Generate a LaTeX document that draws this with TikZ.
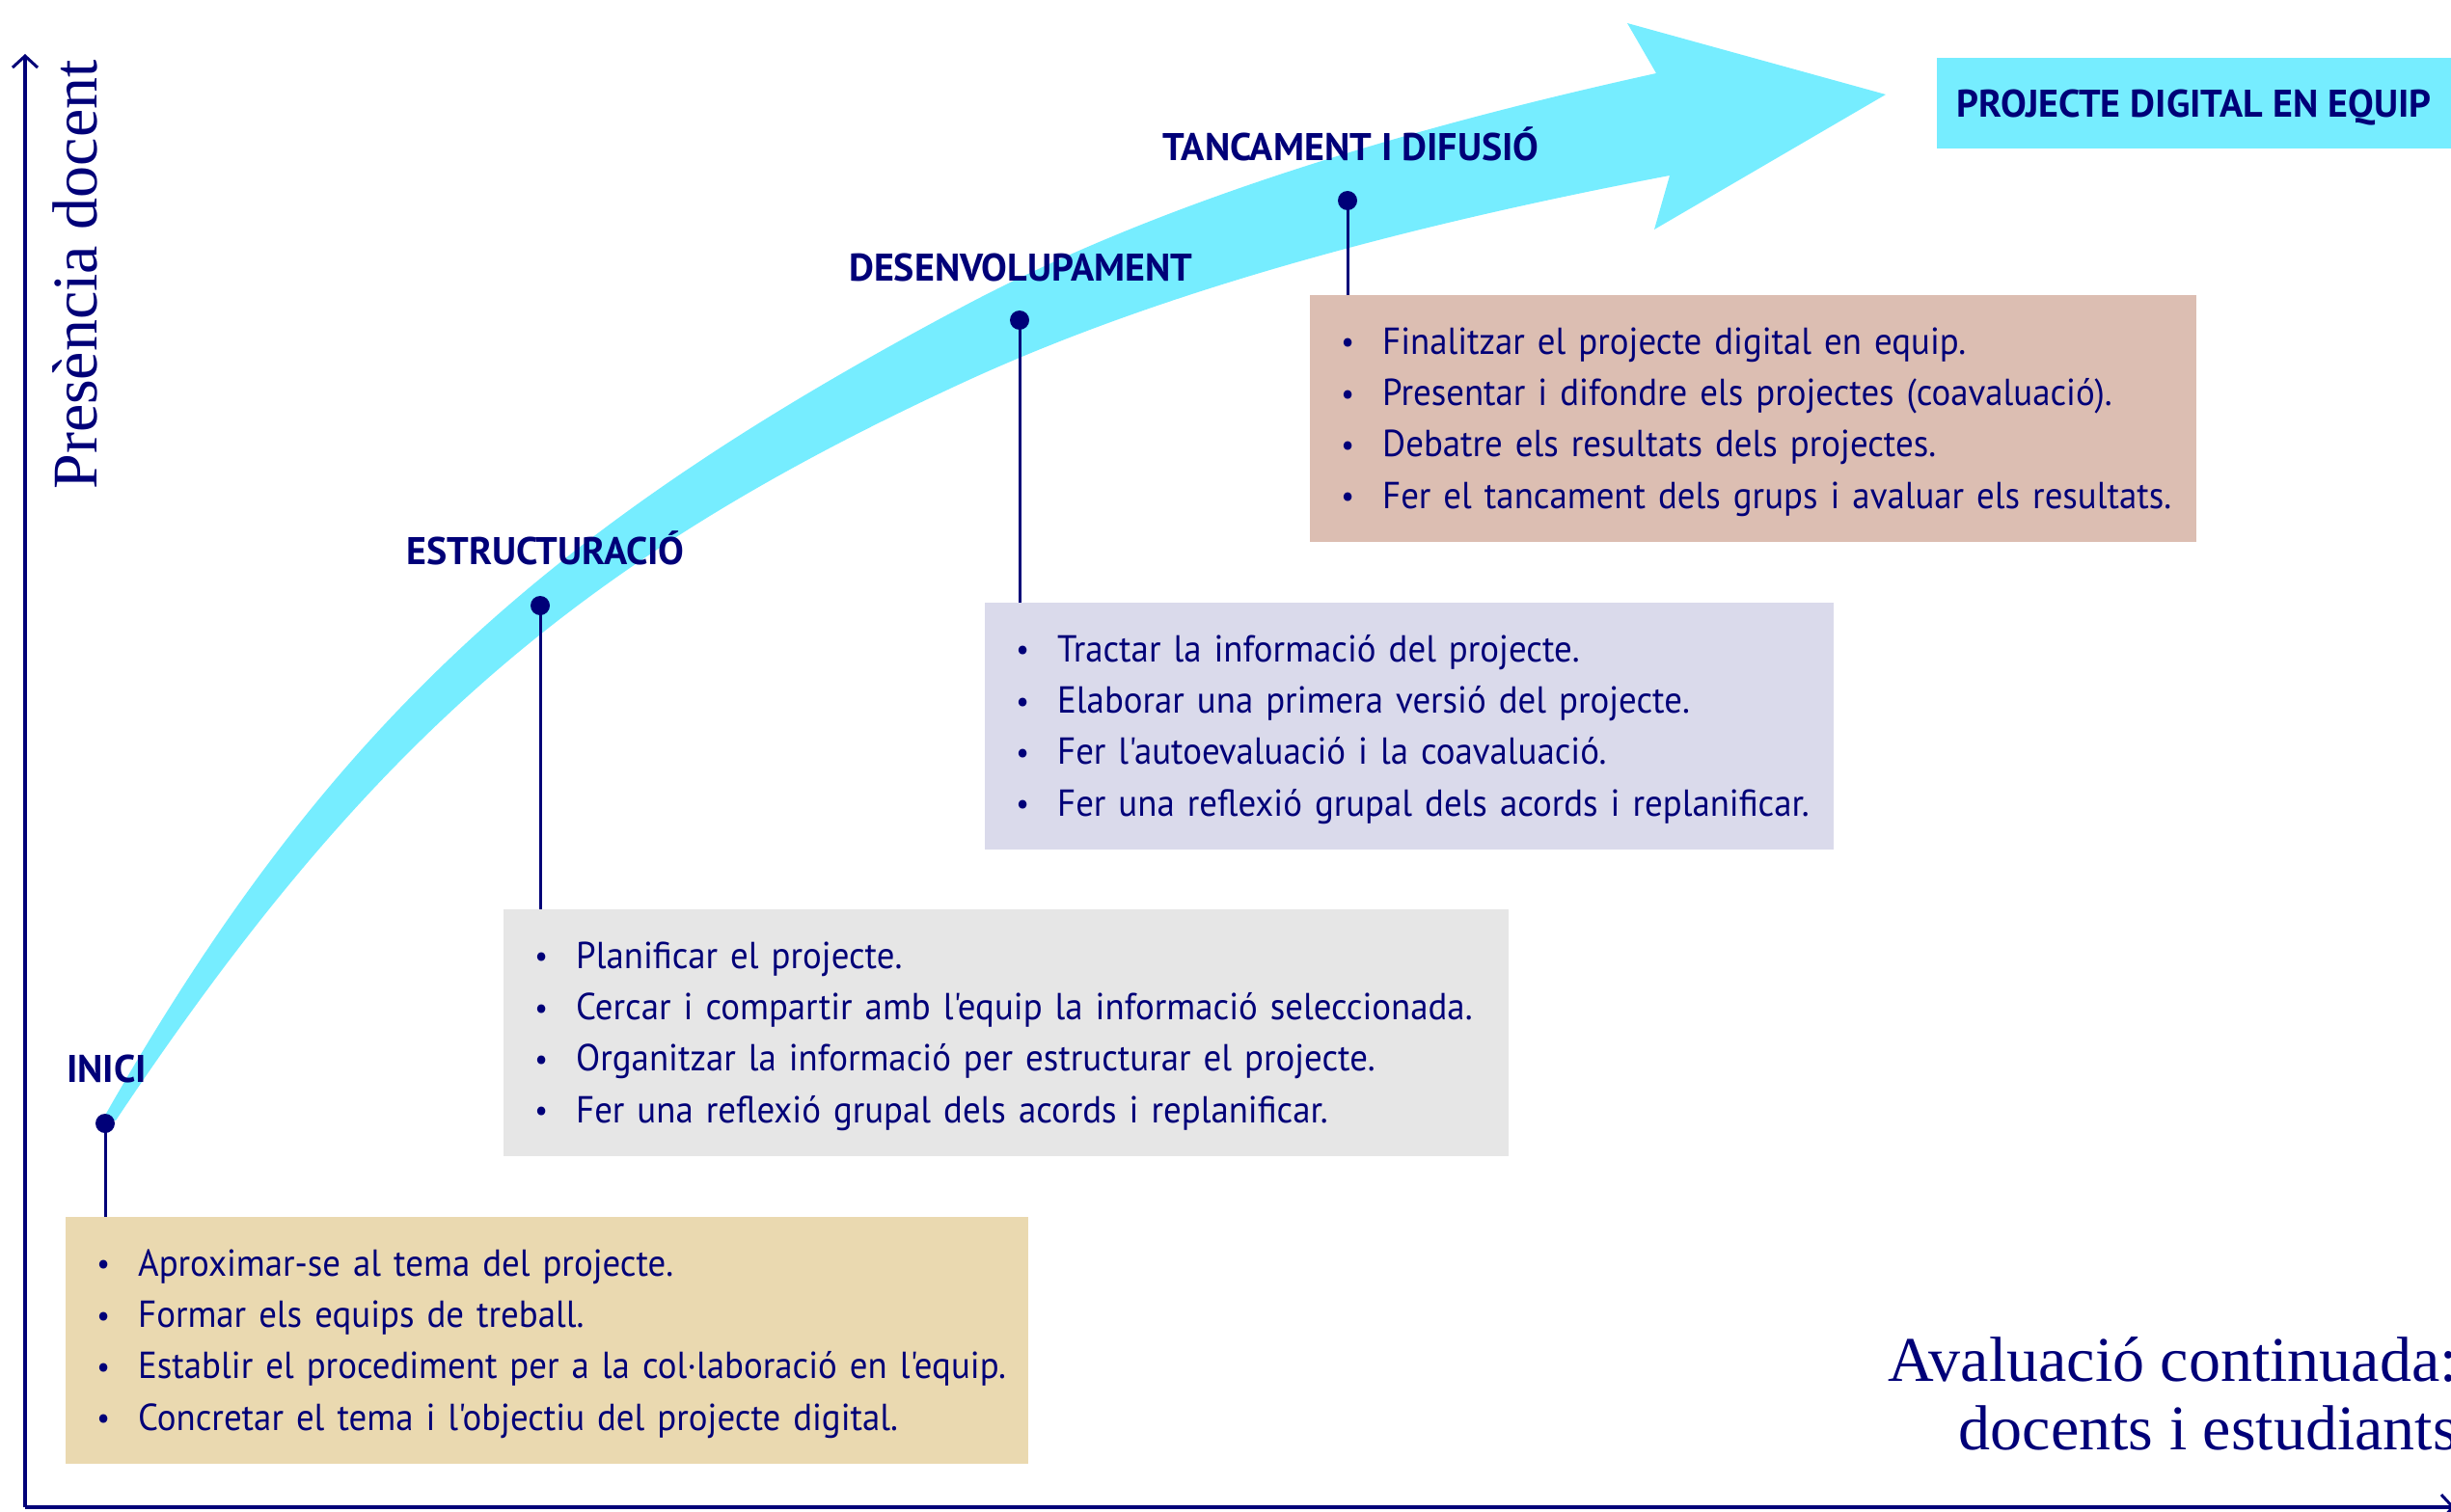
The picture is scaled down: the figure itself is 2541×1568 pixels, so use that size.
\documentclass[tikz,border=0pt]{standalone}
\usepackage{fontspec}
\setmainfont{Liberation Serif}
\newfontfamily\bodyfont{PT Sans}[FakeStretch=0.945]
\newfontfamily\labelfont{PT Sans}
\usetikzlibrary{arrows.meta}
\definecolor{ink}{RGB}{0,0,120}
\definecolor{bandcyan}{RGB}{118,237,255}
\definecolor{boxA}{RGB}{234,217,176}
\definecolor{boxB}{RGB}{230,230,230}
\definecolor{boxC}{RGB}{218,218,235}
\definecolor{boxD}{RGB}{220,190,178}
\newcommand\itm[1]{\mbox{\rule[-12pt]{0pt}{50pt}\makebox[42pt][l]{\makebox[12pt][c]{\raisebox{1.5pt}{\fontsize{32}{32}\selectfont\textbullet}}}#1}}
\tikzset{
  stagebox/.style={anchor=north west, inner xsep=33pt, inner ysep=0pt, align=left,
    font=\bodyfont\fontsize{39}{53.3}\selectfont, text=ink, minimum height=256pt},
  stagelabel/.style={anchor=base west, inner sep=0pt,
    font=\labelfont\bfseries\fontsize{40}{40}\selectfont, text=ink},
  dotnode/.style={circle, fill=ink, inner sep=0pt, minimum size=20pt},
  leader/.style={draw=ink, line width=3pt},
  axisline/.style={draw=ink, line width=3.5pt, -{Straight Barb[length=12pt,width=26pt,line width=3pt]}},
  serifbig/.style={inner sep=0pt, text=ink, font=\fontsize{66}{71}\selectfont},
}
\begin{document}
\begin{tikzpicture}[x=1pt,y=-1pt]
\useasboundingbox (0,0) rectangle (2541,1568);
% axes
\coordinate (O) at (26,1563);
\coordinate (Ytop) at (26,56);
\coordinate (Xend) at (2545,1563);
\draw[axisline] (O) -- (Ytop);
\draw[axisline] (O) -- (Xend);
\node[serifbig, rotate=90, anchor=base] (ylab) at (100,285) {Presència docent};
\node[serifbig, anchor=base east] (ev1) at (2548,1432) {Avaluació continuada:};
\node[serifbig, anchor=base east] (ev2) at (2548,1503) {docents i estudiants};
% curved arrow
\fill[bandcyan] (107,1160) .. controls (332.8,762.9) and (556.5,551.8) .. (1000,317)
  .. controls (1181,221) and (1417,142) .. (1717,76)
  -- (1687,24) -- (1955,98) -- (1715,238) -- (1731,182)
  .. controls (1426.9,239.9) and (1185.6,310.5) .. (1000,396)
  .. controls (600.5,579.9) and (380.6,771.4) .. (120,1162) -- cycle;
% project box
\node[fill=bandcyan, anchor=north west, minimum width=533pt, minimum height=94pt, inner sep=0pt,
  text height=28pt, text depth=0pt, font=\labelfont\bfseries\fontsize{40}{40}\selectfont, text=ink] (pj) at (2008,60) {PROJECTE DIGITAL EN EQUIP};
% stage boxes
\node[stagebox, fill=boxA, minimum width=998pt, text width=932pt] (b1) at (68,1262)
  {\itm{Aproximar-se al tema del projecte.}\\ \itm{Formar els equips de treball.}\\ \itm{Establir el procediment per a la col·laboració en l'equip.}\\ \itm{Concretar el tema i l'objectiu del projecte digital.}};
\node[stagebox, fill=boxB, minimum width=1042pt, text width=976pt] (b2) at (522,943)
  {\itm{Planificar el projecte.}\\ \itm{Cercar i compartir amb l'equip la informació seleccionada.}\\ \itm{Organitzar la informació per estructurar el projecte.}\\ \itm{Fer una reflexió grupal dels acords i replanificar.}};
\node[stagebox, fill=boxC, minimum width=880pt, text width=814pt] (b3) at (1021,625)
  {\itm{Tractar la informació del projecte.}\\ \itm{Elaborar una primera versió del projecte.}\\ \itm{Fer l'autoevaluació i la coavaluació.}\\ \itm{Fer una reflexió grupal dels acords i replanificar.}};
\node[stagebox, fill=boxD, minimum width=919pt, text width=853pt] (b4) at (1358,306)
  {\itm{Finalitzar el projecte digital en equip.}\\ \itm{Presentar i difondre els projectes (coavaluació).}\\ \itm{Debatre els resultats dels projectes.}\\ \itm{Fer el tancament dels grups i avaluar els resultats.}};
% labels
\node[stagelabel] (lI) at (69,1122) {INICI};
\node[stagelabel] (lE) at (421,585) {ESTRUCTURACIÓ};
\node[stagelabel] (lD) at (880,291) {DESENVOLUPAMENT};
\node[stagelabel] (lT) at (1205,167) {TANCAMENT I DIFUSIÓ};
% dots and leaders
\node[dotnode] (dI) at (109,1165) {};
\node[dotnode] (dE) at (560,628) {};
\node[dotnode] (dD) at (1057,332) {};
\node[dotnode] (dT) at (1397,208) {};
\draw[leader] (dI.center) -- (b1.north -| dI);
\draw[leader] (dE.center) -- (b2.north -| dE);
\draw[leader] (dD.center) -- (b3.north -| dD);
\draw[leader] (dT.center) -- (b4.north -| dT);
\end{tikzpicture}
\end{document}
